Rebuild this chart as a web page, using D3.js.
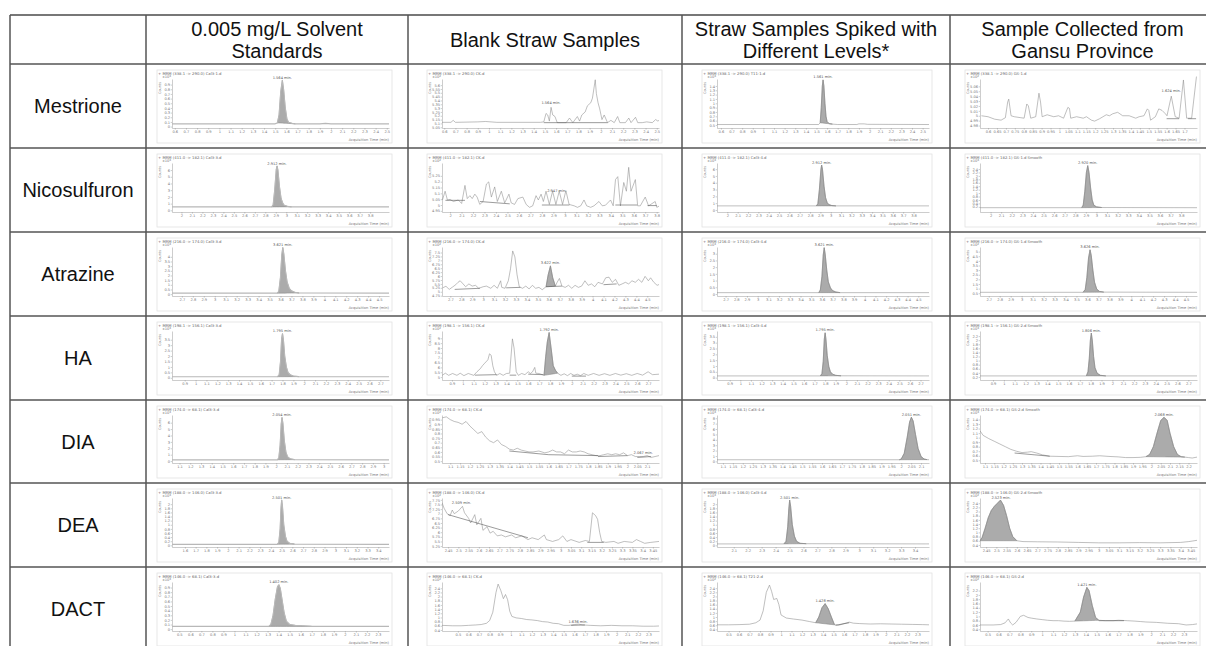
<!DOCTYPE html>
<html>
<head>
<meta charset="utf-8">
<script src="https://cdn.jsdelivr.net/npm/d3@7"></script>
<style>
  body { margin: 0; background: #fff; }
  svg { display: block; }
</style>
</head>
<body>
<script>
// table content
const compounds = ["Mestrione", "Nicosulfuron", "Atrazine", "HA", "DIA", "DEA", "DACT"];
const columnTitles = [
  ["0.005 mg/L Solvent", "Standards"],
  ["Blank Straw Samples"],
  ["Straw Samples Spiked with", "Different Levels*"],
  ["Sample Collected from", "Gansu Province"]
];

// chromatogram headers, one row per compound, one entry per column
const mrmTitles = [
  ["+ MRM (338.1 -> 290.0) Cal3-1.d", "+ MRM (338.1 -> 290.0) CK.d", "+ MRM (338.1 -> 290.0) T11-1.d", "+ MRM (338.1 -> 290.0) GS-1.d"],
  ["+ MRM (411.0 -> 182.1) Cal3-3.d", "+ MRM (411.0 -> 182.1) CK.d", "+ MRM (411.0 -> 182.1) Cal3-4.d", "+ MRM (411.0 -> 182.1) GS-1.d Smooth"],
  ["+ MRM (216.0 -> 174.0) Cal3-3.d", "+ MRM (216.0 -> 174.0) CK.d", "+ MRM (216.0 -> 174.0) Cal3-4.d", "+ MRM (216.0 -> 174.0) GS-1.d Smooth"],
  ["+ MRM (198.1 -> 156.1) Cal3-3.d", "+ MRM (198.1 -> 156.1) CK.d", "+ MRM (198.1 -> 156.1) Cal3-4.d", "+ MRM (198.1 -> 156.1) GS-2.d Smooth"],
  ["+ MRM (174.0 -> 68.1) Cal3-3.d", "+ MRM (174.0 -> 68.1) CK.d", "+ MRM (174.0 -> 68.1) Cal3-4.d", "+ MRM (174.0 -> 68.1) GS-2.d Smooth"],
  ["+ MRM (188.0 -> 146.0) Cal3-3.d", "+ MRM (188.0 -> 146.0) CK.d", "+ MRM (188.0 -> 146.0) Cal3-4.d", "+ MRM (188.0 -> 146.0) GS-2.d Smooth"],
  ["+ MRM (146.0 -> 68.1) Cal3-3.d", "+ MRM (146.0 -> 68.1) CK.d", "+ MRM (146.0 -> 68.1) T21-2.d", "+ MRM (146.0 -> 68.1) GS-2.d"]
];

const xDomains = [
  [[0.575, 2.52], [0.58, 2.52], [0.563, 2.56], [0.555, 1.77]],
  [[1.91, 3.98], [1.93, 3.82], [1.9, 3.95], [1.9, 3.95]],
  [[2.61, 4.59], [2.624, 4.607], [2.62, 4.6], [2.62, 4.6]],
  [[0.783, 2.78], [0.809, 2.8], [0.78, 2.78], [0.78, 2.78]],
  [[1.03, 3.05], [1.058, 2.16], [1.07, 2.14], [1.073, 2.246]],
  [[1.48, 3.5], [2.42, 3.48], [1.98, 3.5], [2.42, 3.48]],
  [[0.434, 2.4], [0.35, 2.4], [0.39, 2.41], [0.43, 2.42]]
];
// [first tick, last tick, step]
const xTickSpecs = [
  [[0.6, 2.5, 0.1], [0.6, 2.5, 0.1], [0.6, 2.5, 0.1], [0.6, 1.7, 0.05]],
  [[2, 3.8, 0.1], [2, 3.8, 0.1], [2, 3.8, 0.1], [2, 3.8, 0.1]],
  [[2.7, 4.5, 0.1], [2.7, 4.5, 0.1], [2.7, 4.5, 0.1], [2.7, 4.5, 0.1]],
  [[0.9, 2.7, 0.1], [0.9, 2.7, 0.1], [0.9, 2.7, 0.1], [0.9, 2.7, 0.1]],
  [[1.1, 3, 0.1], [1.1, 2.1, 0.05], [1.1, 2.1, 0.05], [1.1, 2.2, 0.05]],
  [[1.6, 3.4, 0.1], [2.45, 3.45, 0.05], [2.1, 3.4, 0.1], [2.45, 3.45, 0.05]],
  [[0.5, 2.3, 0.1], [0.5, 2.3, 0.1], [0.5, 2.3, 0.1], [0.5, 2.3, 0.1]]
];
const yDomains = [
  [[-0.03, 1.02], [5.04, 5.68], [0.43, 1.56], [4.975, 5.075]],
  [[-0.25, 7.05], [4.94, 5.36], [-0.3, 6.9], [-0.1, 2.75]],
  [[-0.2, 5.05], [4.73, 7.85], [-0.15, 3.5], [0.2, 5.5]],
  [[-0.2, 4.3], [4.7, 9.75], [-0.2, 4.0], [0.05, 2.45]],
  [[-0.3, 7.2], [0.48, 1.0], [-0.3, 8.6], [0.44, 1.5]],
  [[-0.08, 2.3], [5.2, 7.85], [-0.08, 2.3], [0.3, 2.65]],
  [[-0.04, 1.02], [0.35, 2.7], [0.32, 2.7], [0.32, 2.6]]
];
const yTickSpecs = [
  [[0, 0.9, 0.1], [5.05, 5.6, 0.05], [0.5, 1.4, 0.1], [4.98, 5.06, 0.01]],
  [[0, 6, 1], [4.95, 5.25, 0.05], [0, 6, 1], [0.2, 2.4, 0.2]],
  [[0, 4, 0.5], [4.75, 7.5, 0.25], [0, 3, 0.5], [0.5, 5, 0.5]],
  [[0, 3.5, 0.5], [5, 9, 0.5], [0, 3.5, 0.5], [0.2, 2.2, 0.2]],
  [[0, 6, 1], [0.5, 0.95, 0.05], [0, 8, 1], [0.5, 1.4, 0.1]],
  [[0, 2, 0.2], [5.25, 7.75, 0.25], [0, 2, 0.2], [0.4, 2.4, 0.2]],
  [[0, 0.9, 0.1], [0.4, 2.4, 0.2], [0.4, 2.4, 0.2], [0.4, 2.2, 0.2]]
];
const yExponents = [
  [3, 2, 3, 2], [3, 2, 3, 3], [3, 2, 3, 2], [3, 2, 3, 3], [3, 2, 3, 3], [3, 2, 3, 2], [3, 2, 2, 2]
];
// [x, y, text] of the retention time label
const peakLabels = [
  [[1.564, 0.99, "1.564 min."], [1.555, 5.33, "1.564 min."], [1.562, 1.54, "1.561 min."], [1.626, 5.045, "1.624 min."]],
  [[2.912, 6.6, "2.912 min."], [2.93, 5.1, "2.947 min."], [2.912, 6.6, "2.912 min."], [2.918, 2.6, "2.920 min."]],
  [[3.621, 4.98, "3.621 min."], [3.615, 6.7, "3.622 min."], [3.621, 3.45, "3.621 min."], [3.624, 5.2, "3.626 min."]],
  [[1.8, 4.05, "1.795 min."], [1.792, 9.6, "1.792 min."], [1.8, 3.85, "1.795 min."], [1.806, 2.35, "1.806 min."]],
  [[2.054, 6.8, "2.054 min."], [2.08, 0.56, "2.067 min."], [2.051, 8.2, "2.051 min."], [2.068, 1.45, "2.068 min."]],
  [[2.501, 2.2, "2.501 min."], [2.515, 7.45, "2.509 min."], [2.501, 2.2, "2.501 min."], [2.523, 2.55, "2.523 min."]],
  [[1.402, 0.96, "1.402 min."], [1.636, 0.68, "1.636 min."], [1.42, 1.65, "1.428 min."], [1.41, 2.35, "1.421 min."]]
];
// integrated (grey) peak: [from, to], null when none
const shadeRanges = [
  [[1.515, 1.68], null, [1.53, 1.65], null],
  [[2.86, 3.05], null, [2.86, 3.05], [2.86, 3.05]],
  [[3.57, 3.77], [3.575, 3.66], [3.57, 3.77], [3.56, 3.75]],
  [[1.755, 1.95], [1.745, 1.87], [1.755, 1.95], [1.76, 1.94]],
  [[2.01, 2.17], null, [1.99, 2.13], [1.97, 2.18]],
  [[2.46, 2.62], null, [2.46, 2.62], [2.42, 2.6]],
  [[1.31, 1.7], null, [1.33, 1.51], [1.3, 1.52]]
];
// dark integration baselines drawn by the software
const integrationLines = [
  [[], [[[1.49, 5.11], [2.06, 5.11]]], [], [[[1.6, 4.994], [1.67, 4.994]], [[1.72, 4.994], [1.765, 4.994]]]],
  [[], [[[1.96, 5.04], [2.13, 5.04]], [[2.26, 5.03], [2.52, 5.01]], [[2.8, 5.0], [3.04, 5.0]], [[3.44, 5.0], [3.63, 5.0]], [[3.72, 4.995], [3.8, 4.995]]], [], []],
  [[], [[[2.74, 5.15], [2.97, 5.22]], [[3.21, 5.25], [3.34, 5.28]], [[3.575, 5.32], [3.72, 5.36]], [[4.1, 5.45], [4.22, 5.5]]], [], []],
  [[], [[[1.11, 5.2], [1.31, 5.25]], [[1.43, 5.2], [1.49, 5.2]], [[1.6, 5.3], [1.74, 5.25]], [[2.0, 5.1], [2.13, 5.1]]], [], []],
  [[], [[[1.4, 0.61], [1.6, 0.57]], [[1.6, 0.57], [1.85, 0.56]], [[1.85, 0.55], [2.0, 0.56]], [[2.05, 0.54], [2.12, 0.55]]], [], [[[1.26, 0.66], [1.45, 0.59]]]],
  [[], [[[2.45, 6.95], [2.84, 5.7]], [[3.13, 5.45], [3.21, 5.45]]], [], []],
  [[], [[[1.57, 0.62], [1.7, 0.64]]], [[[1.52, 0.6], [1.65, 0.72]]], [[[1.52, 0.8], [1.75, 0.8]]]]
];

// traces, [time (min), counts]
const standardTraces = [
  [[0.575,0.06],[1.5,0.06],[1.52,0.08],[1.535,0.25],[1.55,0.75],[1.564,0.99],[1.575,0.8],[1.59,0.4],[1.605,0.16],[1.62,0.09],[1.65,0.07],[1.68,0.06],[1.9,0.06],[1.95,0.07],[2.0,0.06],[2.52,0.06]],
  [[1.91,0.5],[2.86,0.5],[2.875,0.8],[2.89,3],[2.905,6.1],[2.912,6.6],[2.92,6.0],[2.935,3.5],[2.95,1.8],[2.965,1.1],[2.98,0.75],[3.01,0.6],[3.05,0.52],[3.98,0.5]],
  [[2.61,0.1],[3.57,0.1],[3.585,0.3],[3.6,1.8],[3.612,4.2],[3.621,4.98],[3.63,4.3],[3.645,2.5],[3.66,1.3],[3.68,0.6],[3.7,0.35],[3.73,0.2],[3.77,0.12],[4.59,0.1]],
  [[0.783,0.1],[1.755,0.1],[1.77,0.3],[1.782,1.5],[1.792,3.6],[1.8,4.05],[1.808,3.5],[1.82,2.0],[1.835,1.0],[1.85,0.5],[1.87,0.28],[1.9,0.16],[1.95,0.11],[2.78,0.1]],
  [[1.03,0.2],[2.01,0.2],[2.025,0.5],[2.037,2.5],[2.047,5.8],[2.054,6.8],[2.062,5.9],[2.075,3.2],[2.09,1.4],[2.105,0.7],[2.13,0.35],[2.17,0.22],[3.05,0.2]],
  [[1.48,0.05],[2.46,0.05],[2.475,0.15],[2.487,0.8],[2.495,1.8],[2.501,2.2],[2.508,1.9],[2.52,1.0],[2.535,0.45],[2.55,0.2],[2.575,0.1],[2.62,0.06],[3.5,0.05]],
  [[0.434,0.06],[1.31,0.06],[1.33,0.1],[1.35,0.3],[1.37,0.65],[1.39,0.92],[1.402,0.96],[1.415,0.88],[1.43,0.65],[1.45,0.35],[1.47,0.17],[1.5,0.1],[1.55,0.08],[1.62,0.07],[1.7,0.06],[2.4,0.06]]
];

const blankTraces = [
  [[0.58,5.114],[0.66,5.114],[0.68,5.14],[0.7,5.114],[0.9,5.12],[0.97,5.125],[1.07,5.114],[1.46,5.114],[1.49,5.12],[1.51,5.23],[1.525,5.21],[1.54,5.13],[1.555,5.31],[1.57,5.21],[1.59,5.19],[1.61,5.11],[1.69,5.11],[1.72,5.17],[1.75,5.11],[1.79,5.19],[1.81,5.13],[1.83,5.21],[1.86,5.25],[1.88,5.33],[1.91,5.37],[1.925,5.43],[1.95,5.67],[1.96,5.49],[1.975,5.37],[1.99,5.29],[2.01,5.15],[2.03,5.21],[2.06,5.11],[2.09,5.14],[2.12,5.11],[2.15,5.19],[2.17,5.11],[2.22,5.11],[2.25,5.17],[2.27,5.11],[2.31,5.18],[2.33,5.11],[2.37,5.11],[2.41,5.12],[2.46,5.11],[2.49,5.15],[2.51,5.13],[2.52,5.14]],
  [[1.934,5.043],[1.957,5.118],[1.977,5.043],[2.0,5.048],[2.029,5.03],[2.072,5.043],[2.101,5.013],[2.13,5.168],[2.15,5.055],[2.173,5.08],[2.193,5.055],[2.216,5.093],[2.236,5.068],[2.259,5.005],[2.288,5.03],[2.317,5.18],[2.337,5.198],[2.36,5.068],[2.389,5.155],[2.412,5.03],[2.447,5.118],[2.476,5.018],[2.513,5.093],[2.533,5.018],[2.562,5.005],[2.591,5.055],[2.634,5.068],[2.663,5.005],[2.692,4.98],[2.72,4.993],[2.749,5.08],[2.769,5.043],[2.793,5.093],[2.813,5.03],[2.836,5.118],[2.865,5.005],[2.893,5.118],[2.922,5.005],[2.951,5.118],[2.98,5.005],[3.009,5.123],[3.037,5.005],[3.081,4.993],[3.11,4.98],[3.138,4.993],[3.167,5.043],[3.19,4.993],[3.225,4.98],[3.254,4.993],[3.297,5.03],[3.326,4.993],[3.354,4.998],[3.398,5.043],[3.421,4.993],[3.441,5.218],[3.461,5.243],[3.484,4.993],[3.513,5.193],[3.536,5.118],[3.556,5.323],[3.576,5.118],[3.614,5.218],[3.634,4.993],[3.657,4.993],[3.7,5.068],[3.729,4.993],[3.787,5.03],[3.801,4.98],[3.82,4.99]],
  [[2.63,5.25],[2.66,5.35],[2.69,5.15],[2.72,5.3],[2.75,5.45],[2.77,5.6],[2.79,5.7],[2.81,5.55],[2.84,5.32],[2.87,5.5],[2.9,5.36],[2.93,5.41],[2.96,5.22],[3.0,5.32],[3.03,5.36],[3.07,5.22],[3.1,5.41],[3.13,5.22],[3.16,5.7],[3.17,5.28],[3.2,5.22],[3.23,5.7],[3.25,6.46],[3.27,7.6],[3.29,7.22],[3.31,6.08],[3.33,5.32],[3.36,5.22],[3.39,5.36],[3.42,5.18],[3.45,5.41],[3.48,5.22],[3.51,5.28],[3.54,5.13],[3.575,5.32],[3.594,6.08],[3.615,6.65],[3.636,5.89],[3.66,5.36],[3.676,5.6],[3.697,5.85],[3.72,5.36],[3.75,5.28],[3.78,5.41],[3.81,5.22],[3.84,5.41],[3.87,5.28],[3.9,5.36],[3.93,5.7],[3.96,5.41],[3.99,5.5],[4.02,5.32],[4.05,5.6],[4.09,5.5],[4.12,5.89],[4.15,5.93],[4.18,5.6],[4.21,5.79],[4.24,5.41],[4.27,5.5],[4.3,5.6],[4.33,5.5],[4.36,5.7],[4.39,5.6],[4.42,5.79],[4.45,5.6],[4.48,5.98],[4.51,5.7],[4.53,5.89],[4.56,5.6],[4.59,5.41],[4.607,5.46]],
  [[0.81,5.18],[0.84,5.4],[0.87,5.18],[0.906,5.37],[0.946,5.18],[0.976,5.4],[1.01,5.15],[1.05,5.37],[1.1,5.18],[1.13,5.55],[1.16,5.86],[1.18,6.17],[1.2,6.42],[1.23,6.78],[1.245,7.4],[1.26,7.25],[1.275,6.17],[1.29,5.55],[1.31,5.18],[1.34,5.37],[1.37,5.18],[1.4,5.37],[1.43,5.4],[1.455,8.94],[1.47,8.0],[1.49,5.55],[1.51,5.18],[1.54,5.37],[1.57,5.25],[1.6,5.55],[1.62,5.37],[1.64,5.55],[1.66,6.0],[1.67,5.4],[1.7,5.37],[1.745,5.18],[1.76,7.1],[1.775,8.63],[1.792,9.6],[1.81,8.0],[1.83,6.17],[1.85,5.7],[1.87,5.4],[1.9,5.18],[1.93,5.34],[1.96,5.15],[1.99,5.37],[2.02,5.18],[2.05,5.3],[2.08,5.15],[2.11,5.37],[2.15,5.18],[2.2,5.37],[2.25,5.18],[2.3,5.35],[2.35,5.18],[2.4,5.37],[2.45,5.2],[2.5,5.35],[2.55,5.18],[2.6,5.37],[2.65,5.2],[2.7,5.55],[2.74,5.25],[2.8,5.3]],
  [[1.06,0.97],[1.08,0.98],[1.1,0.95],[1.12,0.93],[1.14,0.92],[1.16,0.9],[1.18,0.93],[1.2,0.88],[1.22,0.84],[1.24,0.8],[1.26,0.82],[1.28,0.76],[1.3,0.72],[1.32,0.7],[1.34,0.73],[1.36,0.68],[1.38,0.66],[1.4,0.63],[1.42,0.62],[1.44,0.64],[1.46,0.62],[1.48,0.61],[1.5,0.6],[1.52,0.6],[1.55,0.61],[1.58,0.59],[1.6,0.6],[1.62,0.62],[1.64,0.6],[1.66,0.6],[1.68,0.58],[1.7,0.62],[1.72,0.6],[1.74,0.6],[1.76,0.61],[1.78,0.6],[1.8,0.58],[1.82,0.57],[1.84,0.56],[1.86,0.56],[1.88,0.57],[1.9,0.58],[1.92,0.57],[1.94,0.58],[1.96,0.57],[1.98,0.59],[2.0,0.56],[2.02,0.57],[2.04,0.55],[2.06,0.55],[2.08,0.55],[2.1,0.56],[2.12,0.54],[2.14,0.55],[2.16,0.56]],
  [[2.42,7.6],[2.43,7.3],[2.445,7.0],[2.46,6.9],[2.47,7.2],[2.48,7.0],[2.5,7.15],[2.52,7.4],[2.53,7.05],[2.55,6.75],[2.56,6.5],[2.58,6.95],[2.59,6.4],[2.61,6.75],[2.62,6.1],[2.64,6.3],[2.655,5.95],[2.67,6.05],[2.69,5.8],[2.71,5.85],[2.73,5.75],[2.76,5.85],[2.78,5.7],[2.81,5.8],[2.84,5.6],[2.86,5.7],[2.89,5.6],[2.92,5.85],[2.93,5.6],[2.96,5.5],[2.99,5.6],[3.01,5.8],[3.03,5.5],[3.05,5.6],[3.09,5.45],[3.12,5.55],[3.14,5.5],[3.155,7.05],[3.17,6.9],[3.18,6.7],[3.19,6.0],[3.2,5.5],[3.22,5.45],[3.26,5.5],[3.28,5.4],[3.31,5.5],[3.35,5.45],[3.37,5.6],[3.39,5.5],[3.41,5.4],[3.44,5.45],[3.48,5.5]],
  [[0.35,0.62],[0.45,0.6],[0.53,0.6],[0.6,0.62],[0.67,0.64],[0.72,0.66],[0.77,0.72],[0.8,0.85],[0.83,1.25],[0.86,2.2],[0.88,2.6],[0.905,2.3],[0.93,1.9],[0.95,2.1],[0.97,1.85],[0.99,1.3],[1.01,1.05],[1.05,0.98],[1.1,0.95],[1.15,0.9],[1.2,0.88],[1.25,0.85],[1.3,0.8],[1.35,0.78],[1.4,0.72],[1.45,0.7],[1.5,0.62],[1.55,0.62],[1.6,0.66],[1.64,0.68],[1.68,0.64],[1.75,0.62],[1.85,0.6],[1.95,0.62],[2.05,0.6],[2.15,0.6],[2.25,0.58],[2.35,0.58],[2.4,0.59]]
];

const spikedTraces = [
  [[0.563,0.51],[1.52,0.51],[1.535,0.55],[1.545,0.9],[1.555,1.4],[1.562,1.54],[1.57,1.4],[1.58,1.0],[1.59,0.7],[1.6,0.58],[1.62,0.53],[1.65,0.52],[1.7,0.51],[1.88,0.51],[1.9,0.525],[1.95,0.525],[1.98,0.515],[2.56,0.51]],
  [[1.9,0.6],[2.86,0.6],[2.875,0.9],[2.89,3],[2.905,6.0],[2.912,6.6],[2.92,6.0],[2.935,3.5],[2.95,1.8],[2.965,1.1],[2.98,0.8],[3.01,0.65],[3.05,0.6],[3.95,0.6]],
  [[2.62,0.1],[3.57,0.1],[3.585,0.3],[3.6,1.3],[3.612,2.9],[3.621,3.45],[3.63,3.0],[3.645,1.8],[3.66,0.9],[3.68,0.45],[3.7,0.25],[3.73,0.15],[3.77,0.1],[4.6,0.1]],
  [[0.78,0.15],[1.755,0.15],[1.77,0.35],[1.782,1.4],[1.792,3.3],[1.8,3.85],[1.808,3.3],[1.82,1.9],[1.835,0.95],[1.85,0.5],[1.87,0.3],[1.9,0.2],[1.95,0.16],[2.78,0.15]],
  [[1.07,0.3],[1.99,0.3],[2.0,0.45],[2.015,1.5],[2.03,4.5],[2.042,7.3],[2.051,8.2],[2.06,7.5],[2.072,5.0],[2.085,2.4],[2.1,0.9],[2.115,0.45],[2.13,0.32],[2.14,0.3]],
  [[1.98,0.07],[2.46,0.07],[2.475,0.2],[2.487,0.9],[2.495,1.8],[2.501,2.2],[2.508,1.9],[2.52,1.0],[2.535,0.45],[2.55,0.2],[2.575,0.1],[2.62,0.08],[3.5,0.07]],
  [[0.39,0.62],[0.5,0.62],[0.6,0.63],[0.7,0.65],[0.76,0.72],[0.8,0.85],[0.83,1.3],[0.86,2.2],[0.89,2.55],[0.91,2.25],[0.93,1.85],[0.96,1.9],[0.98,1.6],[1.0,1.1],[1.05,0.95],[1.12,0.9],[1.2,0.85],[1.27,0.78],[1.33,0.72],[1.36,1.0],[1.39,1.45],[1.42,1.65],[1.45,1.4],[1.48,1.0],[1.51,0.62],[1.55,0.6],[1.6,0.68],[1.65,0.75],[1.69,0.7],[1.75,0.68],[1.85,0.66],[1.95,0.67],[2.05,0.66],[2.15,0.65],[2.25,0.64],[2.35,0.63],[2.41,0.62]]
];

const gansuTraces = [
  [[0.563,5.0],[0.6,4.998],[0.637,4.993],[0.673,4.991],[0.697,4.996],[0.71,5.028],[0.716,5.034],[0.729,5.0],[0.747,4.998],[0.784,4.996],[0.802,4.995],[0.817,5.024],[0.826,5.02],[0.839,4.995],[0.867,4.998],[0.885,5.046],[0.894,5.028],[0.903,4.998],[0.931,5.002],[0.968,4.998],[0.995,5.0],[1.023,4.995],[1.047,5.017],[1.056,5.015],[1.063,4.995],[1.096,4.998],[1.133,4.995],[1.151,4.998],[1.179,4.991],[1.197,4.989],[1.225,4.994],[1.262,5.002],[1.28,5.0],[1.298,5.004],[1.326,5.007],[1.354,5.0],[1.39,5.0],[1.427,4.995],[1.446,4.998],[1.473,5.0],[1.492,5.014],[1.5,5.011],[1.51,4.991],[1.537,4.998],[1.556,5.014],[1.574,5.011],[1.593,5.004],[1.602,5.0],[1.626,5.04],[1.648,4.998],[1.67,4.995],[1.694,5.073],[1.712,4.995],[1.74,4.995],[1.767,5.08]],
  [[1.9,0.15],[2.86,0.15],[2.875,0.3],[2.89,1.1],[2.905,2.2],[2.918,2.6],[2.93,2.2],[2.945,1.3],[2.96,0.6],[2.975,0.3],[3.0,0.2],[3.05,0.16],[3.95,0.15]],
  [[2.62,0.6],[3.56,0.6],[3.58,0.9],[3.595,2.2],[3.61,4.3],[3.624,5.2],[3.635,4.6],[3.65,3.0],[3.665,1.7],[3.685,0.95],[3.71,0.7],[3.75,0.62],[4.6,0.6]],
  [[0.78,0.25],[1.76,0.25],[1.775,0.45],[1.787,1.1],[1.797,2.0],[1.806,2.35],[1.815,2.0],[1.827,1.2],[1.84,0.65],[1.86,0.38],[1.89,0.28],[1.94,0.25],[2.78,0.25]],
  [[1.073,1.15],[1.09,1.05],[1.12,0.98],[1.15,0.92],[1.18,0.86],[1.21,0.8],[1.24,0.74],[1.27,0.7],[1.3,0.67],[1.33,0.68],[1.35,0.69],[1.38,0.66],[1.41,0.62],[1.45,0.59],[1.5,0.585],[1.55,0.58],[1.6,0.6],[1.63,0.585],[1.68,0.59],[1.72,0.6],[1.77,0.585],[1.82,0.575],[1.86,0.56],[1.9,0.56],[1.94,0.565],[1.97,0.58],[1.99,0.63],[2.01,0.8],[2.03,1.1],[2.05,1.38],[2.068,1.45],[2.085,1.38],[2.1,1.1],[2.12,0.8],[2.14,0.63],[2.16,0.58],[2.18,0.57],[2.2,0.56],[2.22,0.55],[2.246,0.57]],
  [[2.42,0.6],[2.43,0.75],[2.445,1.2],[2.46,1.7],[2.475,2.05],[2.49,2.25],[2.505,2.4],[2.52,2.55],[2.535,2.3],[2.55,1.8],[2.565,1.2],[2.58,0.8],[2.6,0.6],[2.63,0.56],[2.7,0.55],[2.8,0.54],[2.9,0.52],[3.0,0.5],[3.1,0.5],[3.2,0.51],[3.3,0.5],[3.4,0.52],[3.44,0.56],[3.48,0.62]],
  [[0.43,0.6],[0.55,0.6],[0.62,0.62],[0.66,0.7],[0.69,0.88],[0.71,0.7],[0.73,0.6],[0.76,0.72],[0.8,1.0],[0.83,1.05],[0.87,0.95],[0.9,0.92],[0.95,0.88],[1.0,0.85],[1.05,0.82],[1.1,0.8],[1.15,0.8],[1.2,0.78],[1.25,0.77],[1.3,0.78],[1.35,1.2],[1.38,1.9],[1.41,2.35],[1.43,2.2],[1.46,1.5],[1.49,0.95],[1.52,0.82],[1.58,0.8],[1.65,0.8],[1.7,0.82],[1.78,0.8],[1.85,0.78],[1.9,0.76],[1.95,0.74],[2.05,0.72],[2.15,0.68],[2.25,0.66],[2.32,0.6],[2.38,0.62],[2.42,0.65]]
];

const traceColumns = [standardTraces, blankTraces, spikedTraces, gansuTraces];

// ---- layout ----
const W = 1206, H = 646;
const colEdges = [10, 146, 408, 682, 950, 1215];
const rowEdges = [15, 64, 148, 232, 316, 400, 483, 567, 651];
const insets = [[11, 16], [19, 20], [20, 18], [15, 15]];
const tinyFont = "DejaVu Sans, sans-serif";
const fmt = d3.format("~g");

const svg = d3.select("body").append("svg")
  .attr("width", W).attr("height", H);
svg.append("rect").attr("width", W).attr("height", H).attr("fill", "#fff");

function tickVals(spec) {
  const n = Math.round((spec[1] - spec[0]) / spec[2]);
  return d3.range(n + 1).map(i => +(spec[0] + i * spec[2]).toFixed(4));
}

compounds.forEach((name, r) => {
  columnTitles.forEach((t, c) => {
    const cx0 = colEdges[c + 1], cx1 = colEdges[c + 2];
    const ry0 = rowEdges[r + 1], ry1 = rowEdges[r + 2];
    const px = cx0 + insets[c][0], pw = cx1 - insets[c][1] - px;
    const py = ry0 + 6, ph = ry1 - 5 - py;
    const g = svg.append("g").attr("transform", `translate(${px},${py})`);

    g.append("rect").attr("width", pw).attr("height", ph)
      .attr("fill", "#fff").attr("stroke", "#e2e2e2").attr("stroke-width", 0.8);

    const left = 15, right = pw - 3, top = 9, bottom = ph - 15;
    const x = d3.scaleLinear().domain(xDomains[r][c]).range([left, right]);
    const y = d3.scaleLinear().domain(yDomains[r][c]).range([bottom, top]);

    const xAxis = g.append("g").attr("transform", `translate(0,${bottom})`)
      .call(d3.axisBottom(x).tickValues(tickVals(xTickSpecs[r][c])).tickSize(1.6).tickSizeOuter(0).tickPadding(1).tickFormat(fmt));
    const yAxis = g.append("g").attr("transform", `translate(${left},0)`)
      .call(d3.axisLeft(y).tickValues(tickVals(yTickSpecs[r][c])).tickSize(1.3).tickSizeOuter(0).tickPadding(0.6).tickFormat(fmt));
    [xAxis, yAxis].forEach(a => {
      a.attr("font-size", 3.6).attr("font-family", tinyFont);
      a.selectAll("path, line").attr("stroke", "#9a9a9a").attr("stroke-width", 0.5);
      a.selectAll("text").attr("fill", "#777");
    });

    // header text of the chromatogram
    g.append("text").attr("x", 1).attr("y", 4.5)
      .attr("font-size", 3.8).attr("font-family", tinyFont).attr("fill", "#666")
      .text(mrmTitles[r][c]);
    const ex = g.append("text").attr("x", left - 1).attr("y", top - 1)
      .attr("text-anchor", "end").attr("font-size", 3.6).attr("font-family", tinyFont).attr("fill", "#777")
      .text("x10");
    ex.append("tspan").attr("dy", -1.3).attr("font-size", 2.8).text(yExponents[r][c]);
    g.append("text").attr("transform", `translate(4,${top + 9}) rotate(-90)`)
      .attr("text-anchor", "middle").attr("font-size", 3.4).attr("font-family", tinyFont).attr("fill", "#777")
      .text("Counts");
    g.append("text").attr("x", right).attr("y", ph - 2.5)
      .attr("text-anchor", "end").attr("font-size", 3.6).attr("font-family", tinyFont).attr("fill", "#777")
      .text("Acquisition Time (min)");

    const clipId = `clip-${r}-${c}`;
    g.append("clipPath").attr("id", clipId).append("rect")
      .attr("x", left).attr("y", top - 4).attr("width", right - left).attr("height", bottom - top + 4);
    const plot = g.append("g").attr("clip-path", `url(#${clipId})`);

    const trace = traceColumns[c][r];
    const sr = shadeRanges[r][c];
    if (sr) {
      const pts = trace.filter(d => d[0] >= sr[0] && d[0] <= sr[1]);
      const a = pts[0], b = pts[pts.length - 1];
      const base = t => a[1] + (b[1] - a[1]) * (t - a[0]) / (b[0] - a[0]);
      plot.append("path").datum(pts)
        .attr("d", d3.area().x(d => x(d[0])).y0(d => y(base(d[0]))).y1(d => y(d[1])))
        .attr("fill", "#ababab").attr("stroke", "#7e7e7e").attr("stroke-width", 0.5);
    }

    plot.append("path").datum(trace)
      .attr("d", d3.line().x(d => x(d[0])).y(d => y(d[1])))
      .attr("fill", "none")
      .attr("stroke", c === 0 ? "#b8b8b8" : "#8a8a8a")
      .attr("stroke-width", c === 0 ? 1.2 : 0.55)
      .attr("stroke-linejoin", "round");

    integrationLines[r][c].forEach(seg => {
      plot.append("line")
        .attr("x1", x(seg[0][0])).attr("y1", y(seg[0][1]))
        .attr("x2", x(seg[1][0])).attr("y2", y(seg[1][1]))
        .attr("stroke", "#4a4a4a").attr("stroke-width", 0.55);
    });

    const lab = peakLabels[r][c];
    g.append("text").attr("x", x(lab[0])).attr("y", Math.max(y(lab[1]) - 1.5, top - 1))
      .attr("text-anchor", "middle").attr("font-size", 3.6).attr("font-family", tinyFont).attr("fill", "#555")
      .text(lab[2]);
  });

  // compound name
  svg.append("text")
    .attr("x", (colEdges[0] + colEdges[1]) / 2)
    .attr("y", (rowEdges[r + 1] + rowEdges[r + 2]) / 2 + 7)
    .attr("text-anchor", "middle")
    .attr("font-family", "Liberation Sans, Arial, sans-serif").attr("font-size", 20).attr("fill", "#111")
    .text(name);
});

// column headers
columnTitles.forEach((lines, c) => {
  const cx = (colEdges[c + 1] + colEdges[c + 2]) / 2;
  const t = svg.append("text").attr("text-anchor", "middle")
    .attr("font-family", "Liberation Sans, Arial, sans-serif").attr("font-size", 20).attr("fill", "#111");
  const y0 = lines.length === 1 ? 47 : 36;
  lines.forEach((l, i) => t.append("tspan").attr("x", cx).attr("y", y0 + i * 22).text(l));
});

// table rules
rowEdges.forEach((ry, i) => {
  svg.append("line").attr("x1", colEdges[0]).attr("x2", W).attr("y1", ry).attr("y2", ry)
    .attr("stroke", i === 0 ? "#777" : "#555").attr("stroke-width", i === 0 ? 2 : 1.5);
});
colEdges.forEach(cx => {
  svg.append("line").attr("x1", cx).attr("x2", cx).attr("y1", rowEdges[0]).attr("y2", H)
    .attr("stroke", "#555").attr("stroke-width", 1.5);
});
</script>
</body>
</html>
